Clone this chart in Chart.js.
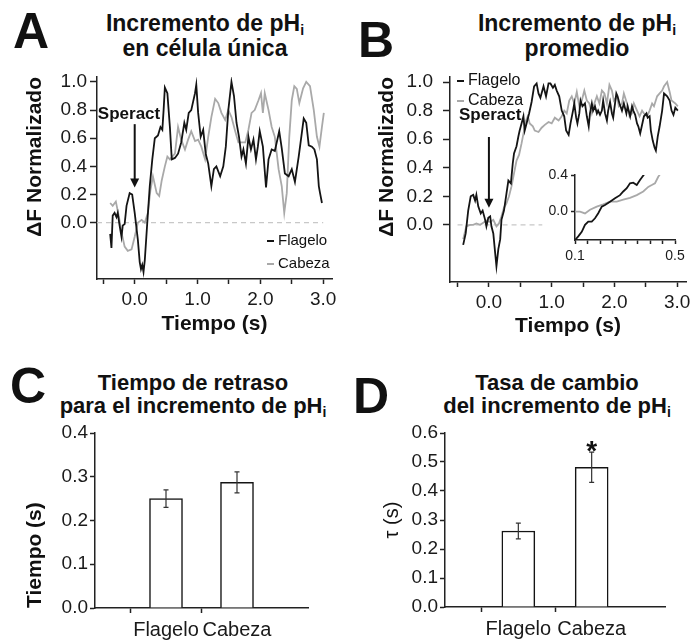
<!DOCTYPE html>
<html lang="es">
<head>
<meta charset="UTF-8" />
<title>Incremento de pHi</title>
<script src="https://cdn.jsdelivr.net/npm/chart.js@4.4.1/dist/chart.umd.min.js"></script>
<style>
  body { margin: 0; background: #fff; overflow: hidden; font-family: "Liberation Sans", Arial, sans-serif; color: #111; }
  #fig { position: relative; width: 693px; height: 641px; overflow: hidden; }
  #fig canvas, #fig .txt { position: absolute; }
  .letter { font-size: 50px; font-weight: bold; line-height: 50px; }
  .title { font-weight: bold; text-align: center; white-space: nowrap; width: 300px; }
  .sub { font-size: 14px; vertical-align: -4px; line-height: 0; }
  .leg { white-space: nowrap; }
  .dash { display: inline-block; width: 7px; height: 2.5px; vertical-align: middle; margin-right: 4px; }
</style>
</head>
<body>
<div id="fig">
  <!-- panel letters + titles -->
  <div class="txt letter" style="left:13px;top:6px">A</div>
  <div class="txt letter" style="left:358px;top:15px">B</div>
  <div class="txt letter" style="left:10px;top:361px">C</div>
  <div class="txt letter" style="left:353px;top:371px">D</div>

  <div class="txt title" style="left:55px;top:11px;font-size:23px;line-height:25px">Incremento de pH<span class="sub">i</span><br>en célula única</div>
  <div class="txt title" style="left:427px;top:11px;font-size:23px;line-height:25px">Incremento de pH<span class="sub">i</span><br>promedio</div>
  <div class="txt title" style="left:43px;top:371px;font-size:22px;line-height:23px">Tiempo de retraso<br>para el incremento de pH<span class="sub">i</span></div>
  <div class="txt title" style="left:407px;top:371px;font-size:22px;line-height:23px">Tasa de cambio<br>del incremento de pH<span class="sub">i</span></div>

  <canvas id="cA" width="345" height="278" style="left:0;top:62px"></canvas>
  <canvas id="cB" width="360" height="287" style="left:345px;top:55px"></canvas>
  <canvas id="cI" width="160" height="115" style="left:530px;top:160px"></canvas>
  <canvas id="cC" width="330" height="223" style="left:0;top:418px"></canvas>
  <canvas id="cD" width="348" height="223" style="left:345px;top:418px"></canvas>

  <!-- legends -->
  <div class="txt leg" style="left:267px;top:228px;font-size:15px;line-height:23px">
    <span class="dash" style="background:#141414"></span>Flagelo<br>
    <span class="dash" style="background:#a9a9a9"></span>Cabeza
  </div>
  <div class="txt leg" style="left:457px;top:70px;font-size:16px;line-height:20px">
    <span class="dash" style="background:#141414"></span>Flagelo<br>
    <span class="dash" style="background:#a9a9a9"></span>Cabeza
  </div>
</div>

<script>
  // ---- data ----
  // A: single cell (time in s, normalised dF)
  const tA_flag = [-0.39,-0.37,-0.35,-0.32,-0.29,-0.27,-0.24,-0.21,-0.19,-0.16,-0.13,-0.08,-0.04,0.00,0.05,0.08,0.10,0.12,0.14,0.16,0.20,0.24,0.28,0.32,0.37,0.41,0.44,0.46,0.48,0.52,0.56,0.59,0.64,0.69,0.74,0.79,0.82,0.86,0.90,0.96,0.98,1.01,1.05,1.09,1.13,1.17,1.22,1.26,1.30,1.36,1.41,1.45,1.49,1.54,1.58,1.62,1.66,1.70,1.73,1.77,1.81,1.85,1.89,1.93,1.96,1.99,2.04,2.09,2.13,2.18,2.23,2.30,2.34,2.39,2.45,2.50,2.55,2.61,2.64,2.69,2.73,2.77,2.82,2.86,2.90,2.93,2.95,2.98];
  const vA_flag = [-0.08,-0.18,0.05,0.07,0.04,0.07,-0.02,-0.10,-0.02,-0.01,0.12,0.21,0.20,0.07,-0.12,-0.28,-0.33,-0.30,-0.35,-0.27,0.00,0.26,0.45,0.60,0.62,0.68,0.66,0.80,0.96,0.92,0.68,0.45,0.46,0.49,0.57,0.71,0.66,0.78,0.80,0.92,0.98,0.78,0.61,0.66,0.49,0.42,0.26,0.38,0.40,0.33,0.40,0.54,0.80,1.00,0.90,0.71,0.61,0.47,0.52,0.42,0.61,0.52,0.59,0.45,0.54,0.65,0.54,0.25,0.45,0.52,0.51,0.65,0.53,0.35,0.33,0.38,0.29,0.47,0.57,0.74,0.71,0.55,0.54,0.52,0.45,0.26,0.21,0.14];
  const tA_cab = [-0.39,-0.35,-0.30,-0.25,-0.21,-0.16,-0.11,-0.05,0.00,0.05,0.11,0.16,0.21,0.25,0.29,0.35,0.39,0.43,0.48,0.52,0.56,0.64,0.69,0.74,0.80,0.85,0.90,0.96,1.01,1.06,1.12,1.17,1.22,1.28,1.33,1.38,1.44,1.49,1.54,1.60,1.65,1.70,1.76,1.81,1.86,1.91,1.97,2.01,2.04,2.07,2.13,2.18,2.23,2.29,2.34,2.38,2.42,2.46,2.50,2.54,2.58,2.62,2.68,2.73,2.79,2.85,2.90,2.94,2.98,3.01];
  const vA_cab = [0.14,0.12,0.15,0.04,-0.07,-0.17,-0.20,-0.19,-0.10,0.00,0.02,0.00,0.07,0.23,0.33,0.21,0.19,0.30,0.40,0.47,0.45,0.49,0.68,0.59,0.52,0.59,0.65,0.58,0.59,0.54,0.45,0.61,0.75,0.88,0.85,0.78,0.73,0.80,0.75,0.65,0.57,0.57,0.57,0.66,0.78,0.80,0.87,0.92,0.78,0.92,0.80,0.68,0.61,0.38,0.26,0.07,0.21,0.61,0.87,0.97,0.95,0.85,0.955,1.00,0.97,0.80,0.61,0.54,0.68,0.78];

  // B: average
  const tB_flag = [-0.41,-0.37,-0.33,-0.29,-0.25,-0.22,-0.20,-0.17,-0.13,-0.10,-0.06,-0.04,-0.01,0.02,0.04,0.07,0.10,0.12,0.15,0.18,0.20,0.24,0.28,0.31,0.35,0.38,0.40,0.44,0.47,0.49,0.52,0.55,0.57,0.60,0.64,0.68,0.72,0.76,0.79,0.82,0.87,0.91,0.95,0.98,1.02,1.05,1.08,1.12,1.16,1.20,1.23,1.27,1.30,1.34,1.36,1.39,1.41,1.44,1.46,1.49,1.53,1.56,1.59,1.61,1.64,1.66,1.69,1.72,1.74,1.77,1.80,1.82,1.85,1.88,1.90,1.93,1.96,1.98,2.03,2.05,2.08,2.12,2.15,2.19,2.21,2.25,2.28,2.30,2.33,2.36,2.38,2.41,2.45,2.47,2.51,2.53,2.56,2.58,2.61,2.64,2.66,2.69,2.72,2.76,2.79,2.84,2.88,2.91,2.94,2.97,3.01];
  const vB_flag = [-0.14,-0.06,0.10,0.20,0.21,0.17,0.21,0.13,0.08,0.10,0.035,-0.01,0.05,0.06,-0.01,-0.06,-0.20,-0.29,-0.17,-0.10,0.035,0.10,0.22,0.31,0.29,0.43,0.50,0.55,0.62,0.66,0.71,0.76,0.66,0.71,0.78,0.86,0.97,0.99,0.92,0.89,0.97,0.90,0.99,0.99,0.96,0.98,0.94,0.90,0.80,0.76,0.66,0.63,0.71,0.80,0.85,0.75,0.71,0.78,0.87,0.83,0.85,0.76,0.69,0.78,0.85,0.80,0.83,0.78,0.80,0.77,0.80,0.87,0.78,0.73,0.80,0.86,0.78,0.75,0.92,0.90,0.85,0.80,0.85,0.78,0.83,0.76,0.83,0.80,0.77,0.71,0.69,0.64,0.72,0.76,0.78,0.75,0.76,0.66,0.59,0.54,0.52,0.62,0.69,0.80,0.92,0.90,0.87,0.80,0.77,0.82,0.80];
  const tB_cab = [-0.41,-0.36,-0.30,-0.25,-0.20,-0.14,-0.09,-0.04,0.02,0.07,0.12,0.16,0.20,0.24,0.28,0.32,0.36,0.40,0.44,0.48,0.52,0.56,0.59,0.62,0.65,0.70,0.73,0.79,0.84,0.89,0.95,1.00,1.05,1.11,1.16,1.20,1.24,1.28,1.32,1.36,1.40,1.44,1.48,1.52,1.56,1.60,1.64,1.68,1.72,1.76,1.80,1.84,1.88,1.92,1.96,1.99,2.04,2.07,2.12,2.15,2.20,2.24,2.28,2.31,2.36,2.40,2.44,2.47,2.52,2.56,2.60,2.63,2.68,2.72,2.76,2.79,2.84,2.88,2.91,2.97,3.01];
  const vB_cab = [-0.10,-0.01,0.00,0.00,0.01,0.00,0.015,0.03,0.02,0.035,-0.01,0.01,0.06,0.12,0.15,0.20,0.27,0.36,0.45,0.49,0.57,0.66,0.73,0.76,0.71,0.69,0.66,0.65,0.68,0.70,0.72,0.71,0.75,0.73,0.76,0.80,0.78,0.87,0.90,0.85,0.93,0.83,0.87,0.94,0.87,0.85,0.78,0.85,0.90,0.85,0.94,0.92,0.85,0.98,0.94,0.87,0.90,0.83,0.85,0.92,0.85,0.76,0.78,0.85,0.80,0.76,0.80,0.78,0.76,0.80,0.85,0.83,0.90,0.92,0.94,0.97,1.00,0.93,0.87,0.85,0.83];

  // B inset: first 0.5 s
  const tI_flag = [0.10,0.113,0.127,0.14,0.153,0.167,0.18,0.193,0.207,0.22,0.24,0.26,0.28,0.293,0.307,0.32,0.333,0.347,0.36,0.38];
  const vI_flag = [-0.31,-0.27,-0.22,-0.145,-0.11,-0.11,-0.073,-0.018,0.055,0.073,0.109,0.145,0.18,0.22,0.255,0.31,0.316,0.29,0.345,0.42];
  const tI_cab = [0.10,0.12,0.14,0.16,0.187,0.213,0.24,0.267,0.293,0.32,0.347,0.373,0.393,0.407,0.42,0.433,0.443];
  const vI_cab = [0.00,0.00,-0.02,0.02,0.055,0.08,0.11,0.11,0.13,0.15,0.18,0.22,0.27,0.29,0.31,0.38,0.42];

  // C, D: bar panels
  const categories = ['Flagelo', 'Cabeza'];
  const delayMean = [0.250, 0.287];
  const delayErr = [0.020, 0.024];
  const tauMean = [0.262, 0.482];
  const tauErr = [0.027, 0.052];
  const tauMarks = ['', '*'];

  // ticks
  const xTicksTime = [-0.5, 0, 0.5, 1, 1.5, 2, 2.5, 3];
  const yTicksTrace = [0, 0.2, 0.4, 0.6, 0.8, 1.0];
  const xTicksInset = [0.1, 0.15, 0.2, 0.25, 0.3, 0.35, 0.4, 0.45, 0.5];
  const xLabelsInset = [0.1, 0.5];
  const yTicksInset = [0, 0.4];
  const yTicksDelay = [0, 0.1, 0.2, 0.3, 0.4];
  const yTicksTau = [0, 0.1, 0.2, 0.3, 0.4, 0.5, 0.6];

  // ---- drawing ----
  const FONT = '"Liberation Sans", Arial, sans-serif';
  const BLACK = '#141414', GRAY = '#a9a9a9', AXIS = '#222';
  Chart.defaults.font.family = FONT;
  Chart.defaults.color = '#1a1a1a';
  Chart.defaults.animation = false;

  const fixTicks = values => s => { s.ticks = values.map(v => ({ value: v })); };
  const pts = (t, v) => t.map((x, i) => ({ x: x, y: v[i] }));

  const speractPlugin = {
    id: 'speract',
    afterDatasetsDraw(chart, args, o) {
      if (!o || o.text === undefined) return;
      const { ctx, scales: { x, y } } = chart;
      const px = x.getPixelForValue(o.x);
      const top = y.getPixelForValue(o.top), tip = y.getPixelForValue(o.tip);
      ctx.save();
      ctx.fillStyle = ctx.strokeStyle = '#111';
      ctx.font = 'bold 17px ' + FONT;
      ctx.textAlign = 'center';
      ctx.textBaseline = 'middle';
      ctx.fillText(o.text, x.getPixelForValue(o.textX), y.getPixelForValue(o.textY));
      ctx.lineWidth = 2;
      ctx.beginPath(); ctx.moveTo(px, top); ctx.lineTo(px, tip - 6); ctx.stroke();
      ctx.beginPath(); ctx.moveTo(px - 4.5, tip - 9); ctx.lineTo(px + 4.5, tip - 9); ctx.lineTo(px, tip); ctx.closePath(); ctx.fill();
      ctx.restore();
    }
  };

  const errorPlugin = {
    id: 'errbars',
    afterDatasetsDraw(chart, args, o) {
      const { ctx, scales: { x, y } } = chart;
      ctx.save();
      ctx.strokeStyle = '#333';
      ctx.lineWidth = 1.2;
      o.means.forEach((m, i) => {
        const px = x.getPixelForValue(i + 1);
        const hi = y.getPixelForValue(m + o.errs[i]), lo = y.getPixelForValue(m - o.errs[i]);
        ctx.beginPath();
        ctx.moveTo(px, hi); ctx.lineTo(px, lo);
        ctx.moveTo(px - 2.5, hi); ctx.lineTo(px + 2.5, hi);
        ctx.moveTo(px - 2.5, lo); ctx.lineTo(px + 2.5, lo);
        ctx.stroke();
        if (o.marks && o.marks[i]) {
          ctx.font = 'bold 28px ' + FONT;
          ctx.fillStyle = '#111';
          ctx.textAlign = 'center';
          ctx.textBaseline = 'alphabetic';
          ctx.fillText(o.marks[i], px, hi + 8);
        }
      });
      ctx.restore();
    }
  };

  function gridOpts(len) {
    return { drawOnChartArea: false, tickLength: len, tickWidth: 1.5, tickColor: AXIS };
  }

  function makeTrace(id, c) {
    const datasets = c.series.map(s => ({
      label: s.label, data: pts(s.t, s.v), borderColor: s.color,
      borderWidth: 1.8, pointRadius: 0, tension: 0, fill: false
    }));
    if (c.zero) {
      datasets.push({ label: 'cero', data: c.zero.map(t => ({ x: t, y: 0 })), borderColor: '#c8c8c8',
        borderWidth: 1.2, borderDash: [5, 4], pointRadius: 0 });
    }
    new Chart(document.getElementById(id), {
      type: 'line',
      data: { datasets },
      options: {
        responsive: false,
        devicePixelRatio: 1,
        layout: { padding: { top: c.padTop, right: c.padRight, left: 0, bottom: 0 } },
        plugins: { legend: { display: false }, tooltip: { enabled: false }, speract: c.speract || {} },
        scales: {
          x: {
            type: 'linear', min: c.xMin, max: c.xMax,
            afterBuildTicks: fixTicks(c.xTicks),
            afterFit: s => { s.height = c.xHeight; },
            grid: gridOpts(c.xTickLen),
            border: { color: AXIS, width: 1.5 },
            ticks: { autoSkip: false, maxRotation: 0, padding: c.xPad, font: { size: c.fontSize },
              callback: c.xLabel },
            title: c.xTitle ? { display: true, text: c.xTitle, font: { size: 21, weight: 'bold' },
              color: '#111', padding: { top: 0, bottom: 3 } } : { display: false }
          },
          y: {
            min: c.yMin, max: c.yMax,
            afterBuildTicks: fixTicks(c.yTicks),
            afterFit: s => { s.width = c.yWidth; },
            grid: gridOpts(c.yTickLen),
            border: { color: AXIS, width: 1.5 },
            ticks: { padding: c.yPad, font: { size: c.fontSize }, callback: v => v.toFixed(1) },
            title: c.yTitle ? { display: true, text: c.yTitle, align: 'end', font: { size: 21, weight: 'bold' },
              color: '#111', padding: { top: c.yTitlePad, bottom: 0 } } : { display: false }
          }
        }
      },
      plugins: [speractPlugin]
    });
  }

  function makeBars(id, c) {
    const last = categories.length + 1;
    new Chart(document.getElementById(id), {
      type: 'bar',
      data: {
        labels: ['', ...categories, ''],
        datasets: [{ data: [null, ...c.means, null], backgroundColor: '#fff', borderColor: BLACK,
          borderWidth: 1.5, barThickness: 33 }]
      },
      options: {
        responsive: false,
        devicePixelRatio: 1,
        layout: { padding: { top: c.padTop, right: c.padRight, left: 0, bottom: 0 } },
        plugins: { legend: { display: false }, tooltip: { enabled: false },
          errbars: { means: c.means, errs: c.errs, marks: c.marks || [] } },
        scales: {
          x: {
            offset: false,
            afterFit: s => { s.height = c.xHeight; },
            grid: { drawOnChartArea: false, tickLength: 5, tickWidth: 1.5,
              tickColor: ctx => (ctx.index === 0 || ctx.index === last) ? 'rgba(0,0,0,0)' : AXIS },
            border: { color: AXIS, width: 1.5 },
            ticks: { autoSkip: false, maxRotation: 0, padding: 5, font: { size: 20 } }
          },
          y: {
            min: 0, max: c.yMax,
            afterBuildTicks: fixTicks(c.yTicks),
            afterFit: s => { s.width = c.yWidth; },
            grid: gridOpts(5),
            border: { color: AXIS, width: 1.5 },
            ticks: { padding: 2, font: { size: 19 }, callback: v => v.toFixed(1) },
            title: { display: true, text: c.yTitle, align: c.yTitleAlign,
              font: { size: c.yTitleSize, weight: c.yTitleWeight }, color: '#111',
              padding: { top: c.yTitlePad, bottom: 0 } }
          }
        }
      },
      plugins: [errorPlugin]
    });
  }

  const intLabel = v => Number.isInteger(v) ? v.toFixed(1) : '';

  makeTrace('cA', {
    series: [
      { label: 'Flagelo', t: tA_flag, v: vA_flag, color: BLACK },
      { label: 'Cabeza', t: tA_cab, v: vA_cab, color: GRAY }
    ],
    zero: [-0.6, 3.0],
    xMin: -0.6, xMax: 3.14, yMin: -0.4, yMax: 1.035,
    xTicks: xTicksTime, yTicks: yTicksTrace, xLabel: intLabel,
    padTop: 15, padRight: 13, yWidth: 97, xHeight: 61,
    xTickLen: 5, yTickLen: 7, xPad: 4, yPad: 3, fontSize: 19,
    xTitle: 'Tiempo (s)', yTitle: 'ΔF Normalizado', yTitlePad: 23,
    speract: { text: 'Speract', textX: -0.09, textY: 0.77, x: 0, top: 0.70, tip: 0.25 }
  });

  makeTrace('cB', {
    series: [
      { label: 'Flagelo', t: tB_flag, v: vB_flag, color: BLACK },
      { label: 'Cabeza', t: tB_cab, v: vB_cab, color: GRAY }
    ],
    zero: [-0.5, 0.85],
    xMin: -0.62, xMax: 3.14, yMin: -0.4, yMax: 1.035,
    xTicks: xTicksTime, yTicks: yTicksTrace, xLabel: intLabel,
    padTop: 22, padRight: 19, yWidth: 105, xHeight: 60,
    xTickLen: 5, yTickLen: 7, xPad: 4, yPad: 10, fontSize: 19,
    xTitle: 'Tiempo (s)', yTitle: 'ΔF Normalizado', yTitlePad: 30,
    speract: { text: 'Speract', textX: 0.02, textY: 0.77, x: 0, top: 0.615, tip: 0.12 }
  });

  makeTrace('cI', {
    series: [
      { label: 'Flagelo', t: tI_flag, v: vI_flag, color: BLACK },
      { label: 'Cabeza', t: tI_cab, v: vI_cab, color: GRAY }
    ],
    xMin: 0.1, xMax: 0.5, yMin: -0.31, yMax: 0.4,
    xTicks: xTicksInset, yTicks: yTicksInset,
    xLabel: v => xLabelsInset.includes(v) ? v.toFixed(1) : '',
    padTop: 15, padRight: 15, yWidth: 45, xHeight: 35,
    xTickLen: 4, yTickLen: 4, xPad: 4, yPad: 3, fontSize: 14
  });

  makeBars('cC', {
    means: delayMean, errs: delayErr, yMax: 0.4, yTicks: yTicksDelay,
    padTop: 15, padRight: 22, yWidth: 95, xHeight: 33,
    yTitle: 'Tiempo (s)', yTitleAlign: 'start', yTitleWeight: 'bold', yTitleSize: 21, yTitlePad: 23
  });

  makeBars('cD', {
    means: tauMean, errs: tauErr, marks: tauMarks, yMax: 0.6, yTicks: yTicksTau,
    padTop: 15, padRight: 28, yWidth: 100, xHeight: 34,
    yTitle: 'τ (s)', yTitleAlign: 'center', yTitleWeight: 'normal', yTitleSize: 20, yTitlePad: 35
  });
</script>
</body>
</html>
